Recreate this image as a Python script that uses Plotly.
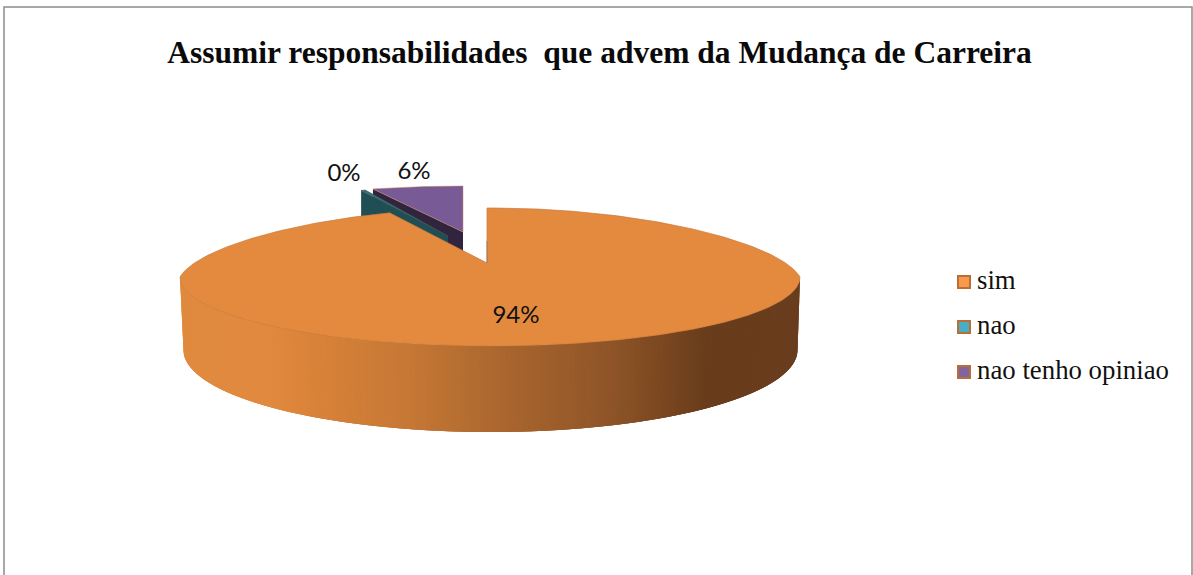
import numpy as np
import plotly.graph_objects as go

categories = ["sim", "nao", "nao tenho opiniao"]
values = [94.0, 0.3, 5.7]
title_text = "Assumir responsabilidades \u00a0que advem da Mudança de Carreira"

total = sum(values)
shares = [v / total for v in values]
starts = np.cumsum([0] + shares[:-1]) * 2 * np.pi
ends = np.cumsum(shares) * 2 * np.pi
pct = [f"{round(s * 100)}%" for s in shares]

W, H = 1193, 575
ORANGE, TEAL, PURPLE = "#E38A3F", "#2B7583", "#775A96"
LEG = ["#F99A4B", "#4BACC6", "#8064A2"]
LEG_EDGE = "#B96E33"
SERIF = "Liberation Serif"
PERSPECTIVE = 0.13


def arc(cx, cy, rx, ry, a0, a1, n=200, k=0.0):
    t = np.linspace(a0, a1, n)
    # the far half of the disc is foreshortened
    return cx + rx * np.sin(t) * (1 - k * np.maximum(np.cos(t), 0)), cy - ry * np.cos(t)


fig = go.Figure()


def poly(x, y, fill, line=None, lw=0.0):
    fig.add_trace(go.Scatter(x=list(x), y=list(y), mode="lines", fill="toself", fillcolor=fill,
                             line=dict(color=line or fill, width=lw), hoverinfo="skip", showlegend=False))


def small_slice(i, ax, ay, rx, ry, top, side, depth, edge, lw):
    xs, ys = arc(ax, ay, rx, ry, starts[i], ends[i], 40)
    poly([ax, xs[0], xs[0], ax], [ay, ys[0], ys[0] + depth, ay + depth], side)
    poly(np.r_[ax, xs, ax], np.r_[ay, ys, ay], top, edge, lw)


small_slice(2, 463, 232, 257, 46, PURPLE, "#31243F", 40, "#C98A55", 0.5)
small_slice(1, 448, 236, 236, 49, TEAL, "#1F4E55", 60, "#4A4F45", 0.6)

stops_x = [181, 260, 300, 400, 490, 600, 700, 800]
stops_r = [0xE0, 0xE2, 0xDA, 0xC6, 0xAB, 0x8F, 0x69, 0x6A]
stops_g = [0x8A, 0x8A, 0x83, 0x78, 0x67, 0x55, 0x3C, 0x3E]
stops_b = [0x3F, 0x3F, 0x3A, 0x35, 0x2F, 0x28, 0x1B, 0x1E]

TOP = dict(cx=490, cy=277, rx=310, ry=69)
BOT = dict(cx=490.5, cy=350, rx=307, ry=82)
edges = np.linspace(np.pi / 2, 3 * np.pi / 2, 181)
step = edges[1] - edges[0]
for a0, a1 in zip(edges[:-1], edges[1:]):
    # each strip reaches back under its neighbour so no seams show
    tx, ty = arc(TOP["cx"], TOP["cy"], TOP["rx"], TOP["ry"], max(a0 - 2 * step, edges[0]), a1, 5)
    bx, by = arc(BOT["cx"], BOT["cy"], BOT["rx"], BOT["ry"], max(a0 - 2 * step, edges[0]), a1, 5)
    xm = TOP["cx"] + TOP["rx"] * np.sin((a0 + a1) / 2)
    c = "#%02X%02X%02X" % (int(np.interp(xm, stops_x, stops_r)),
                           int(np.interp(xm, stops_x, stops_g)),
                           int(np.interp(xm, stops_x, stops_b)))
    poly(np.r_[tx, bx[::-1]], np.r_[ty, by[::-1]], c)

ax0, ay0 = 487, 263
xs, ys = arc(TOP["cx"], TOP["cy"], TOP["rx"], TOP["ry"], starts[0], ends[0], 400, PERSPECTIVE)
xs[0] = ax0
poly(np.r_[ax0, xs, ax0], np.r_[ay0, ys, ay0], ORANGE, "#C77A38", 0.7)
fig.add_trace(go.Scatter(x=[ax0, ax0], y=[ay0 - 22, ay0], mode="lines", line=dict(color="#8A7A68", width=0.8),
                         hoverinfo="skip", showlegend=False))

label_x = [516, 344, 414]
label_y = [317, 175, 173]
fig.add_trace(go.Scatter(x=label_x, y=label_y, mode="text", text=pct, textposition="middle center",
                         textfont=dict(family="Lato", size=24, color="#111111"),
                         hoverinfo="skip", showlegend=False))

legend_mark_x = [964, 964, 964]
legend_text_x = [977, 977, 977]
legend_y = [282, 327, 372]
for mx, tx0, ly, c, name in zip(legend_mark_x, legend_text_x, legend_y, LEG, categories):
    fig.add_trace(go.Scatter(x=[mx], y=[ly], mode="markers",
                             marker=dict(symbol="square", size=12, color=c, line=dict(color=LEG_EDGE, width=2)),
                             name=name, hoverinfo="skip", showlegend=False))
    fig.add_trace(go.Scatter(x=[tx0], y=[ly], mode="text", text=[name], textposition="middle right",
                             textfont=dict(family=SERIF, size=26.8, color="#111111"),
                             hoverinfo="skip", showlegend=False, cliponaxis=False))

fig.update_layout(
    width=W, height=H, autosize=False,
    margin=dict(l=0, r=0, t=0, b=0),
    paper_bgcolor="white", plot_bgcolor="white",
    title=dict(text=title_text, x=599.5 / W, xanchor="center", y=1 - 51.5 / H, yanchor="middle",
               font=dict(family=SERIF, size=31.5, color="#0A0A0A", weight=700)),
    xaxis=dict(range=[0, W], visible=False, fixedrange=True),
    yaxis=dict(range=[H, 0], visible=False, fixedrange=True),
    showlegend=False,
    shapes=[dict(type="rect", xref="x", yref="y", x0=4, y0=7, x1=1192, y1=590,
                 line=dict(color="#8C8C8C", width=1.5), fillcolor="rgba(0,0,0,0)", layer="below")],
)
fig.write_html("out.html", config=dict(displayModeBar=False),
               post_script="document.body.style.margin='0';document.body.style.overflow='hidden';")
